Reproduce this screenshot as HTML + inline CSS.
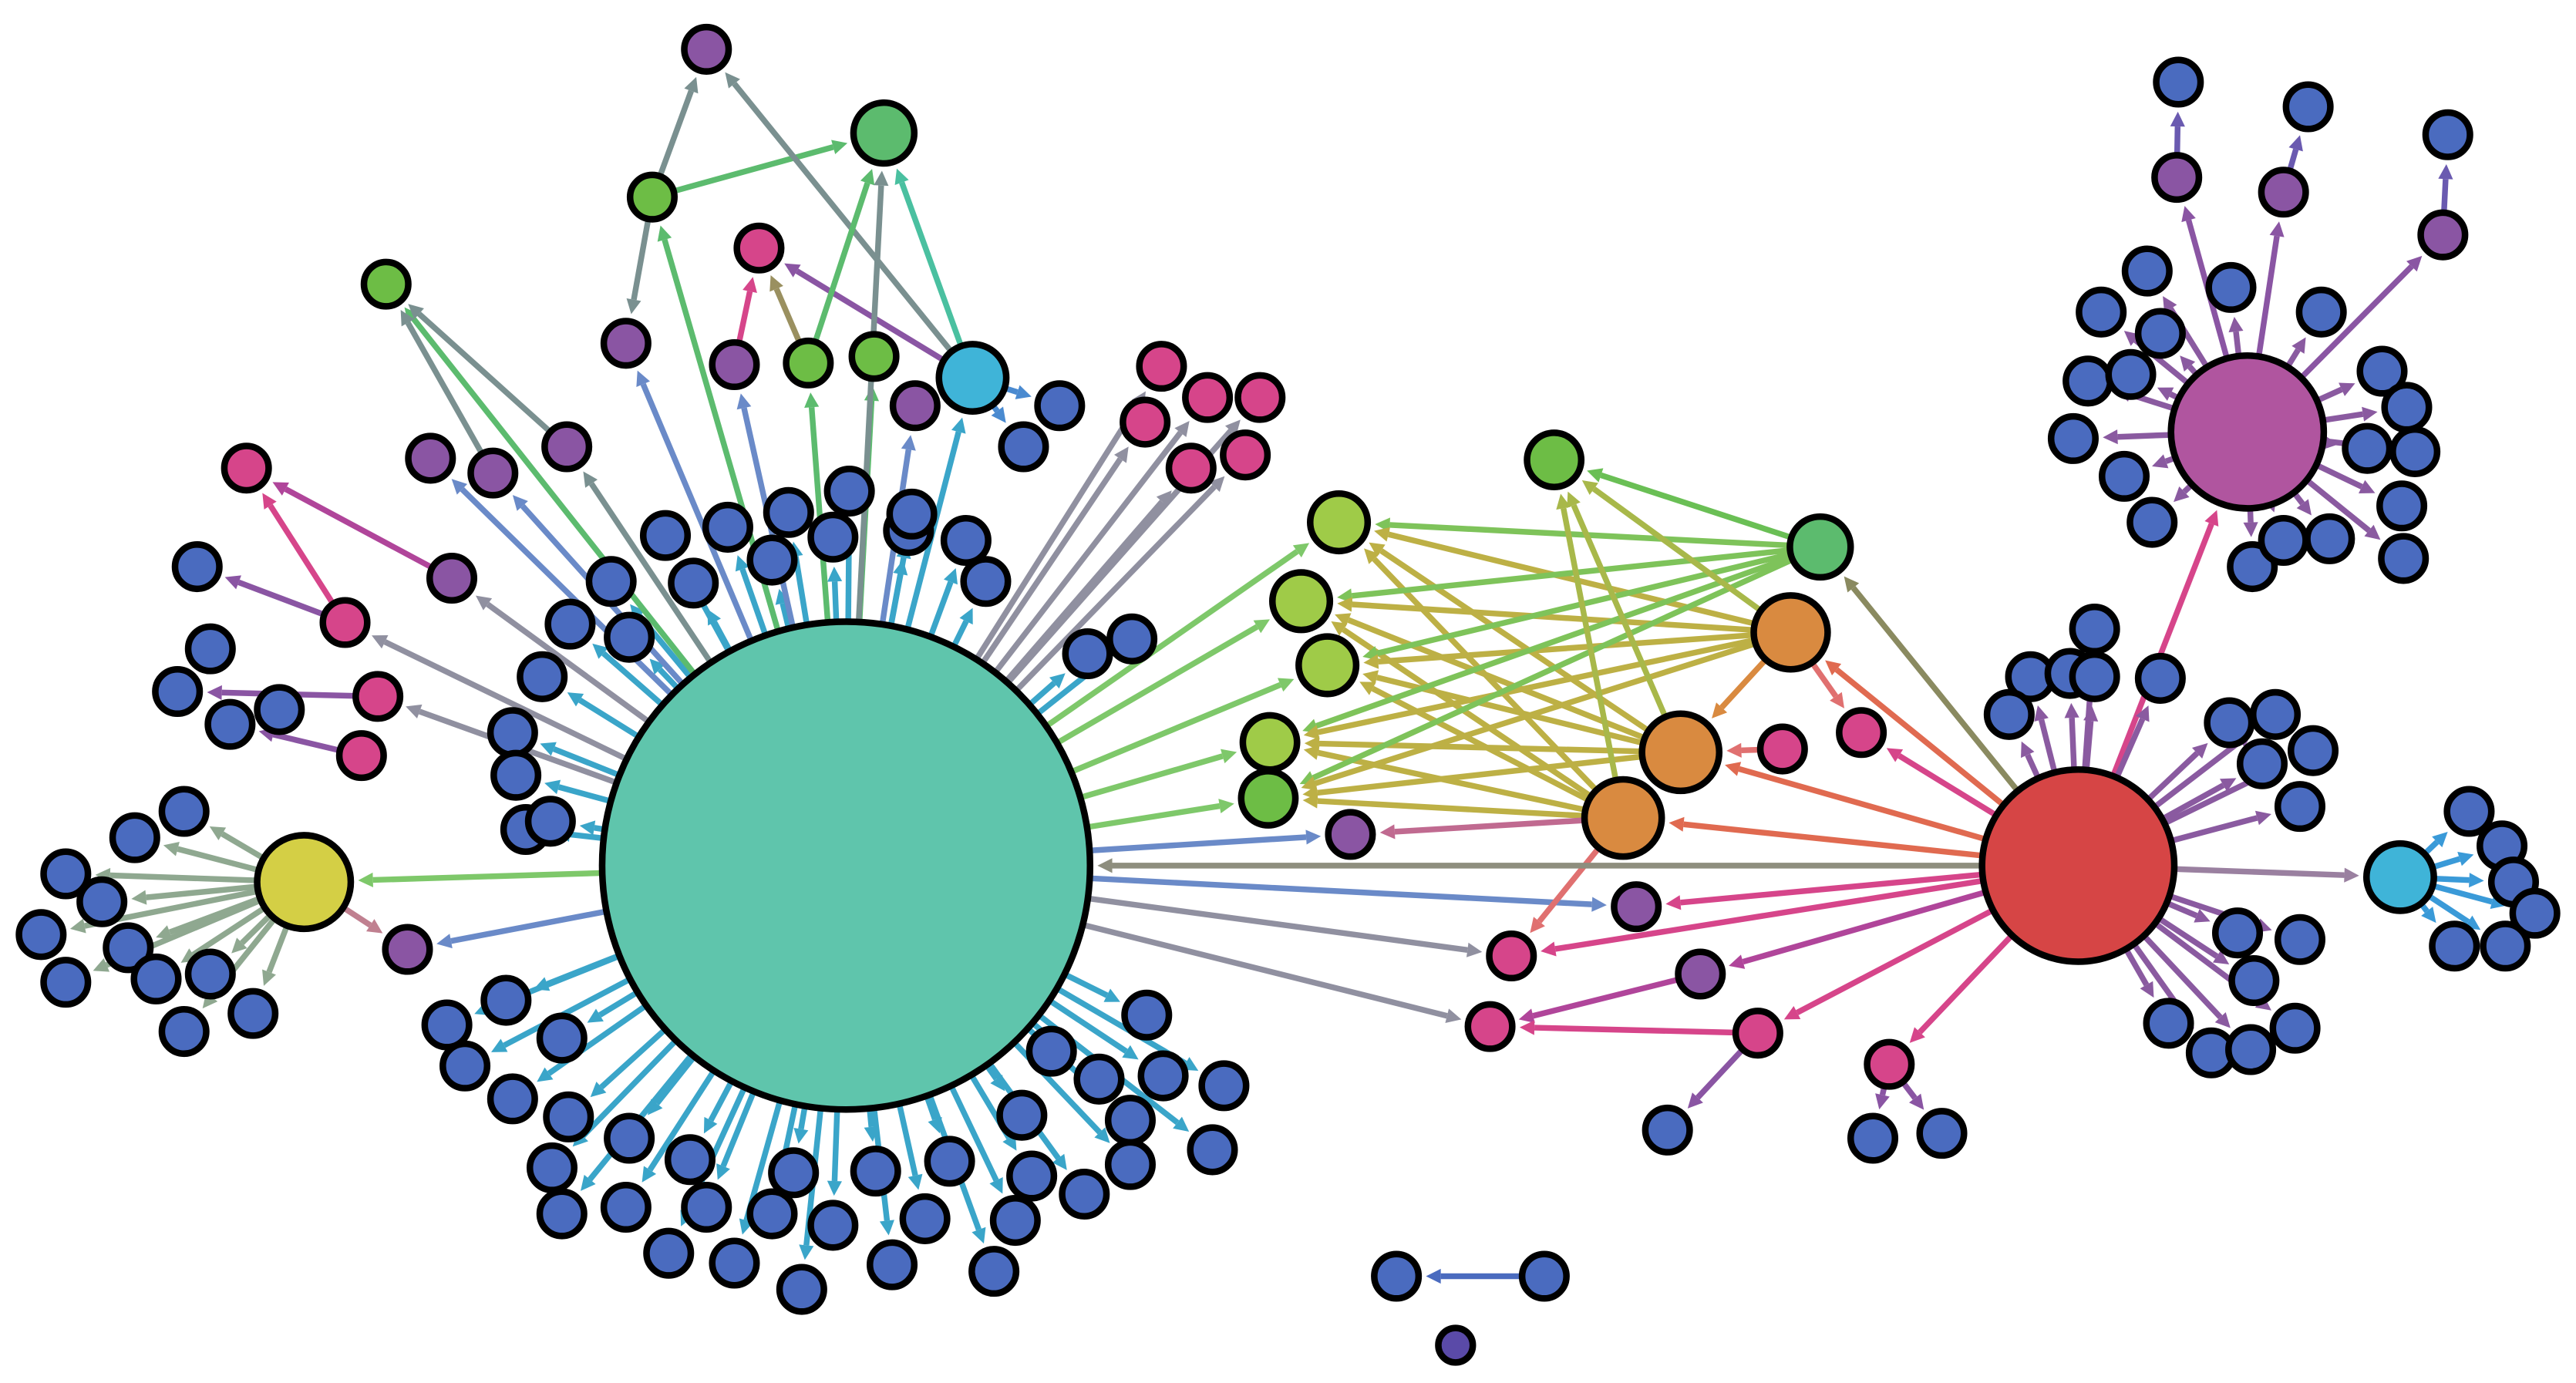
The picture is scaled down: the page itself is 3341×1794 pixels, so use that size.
<!DOCTYPE html>
<html><head><meta charset="utf-8"><style>html,body{margin:0;padding:0;background:#fff}svg{display:block}</style></head>
<body>
<svg id="s" width="3341" height="1794" viewBox="0 0 1568 842" xmlns="http://www.w3.org/2000/svg"><g id="e"></g><g id="n"></g></svg>
<script>
const B='#4a6bbf',PU='#8a55a3',PK='#d6458a',GR='#6dbd45',LG='#9fcb48',DG='#5cbb6e',OR='#d98a40',CY='#3fb4d8';
const N={};let k=0;
function nd(x,y,c,r){const id='n'+(k++);N[id]={x,y,c,r:r||15};return id;}
const E=[];
function ed(a,b,c){E.push([a,b,c]);}
const M=nd(515,527,'#5fc5ac',150), R=nd(1265,527,'#d64545',60), P=nd(1368,263,'#b0559f',48), Y=nd(185,537,'#d4cf45',30), C2=nd(1461,534,CY,22);
const MC='#3aa5c9';
[[405,326],[443,321],[480,312],[517,299],[507,327],[470,341],[422,355],[372,354],[383,388],[347,380],[330,412],[312,446],[314,472],[320,505],[335,500],[553,323],[588,329],[600,354],[555,313],[662,398],[689,389],
[272,624],[283,649],[308,609],[342,632],[312,669],[346,680],[383,693],[336,711],[342,739],[381,735],[407,763],[420,706],[430,735],[447,769],[470,739],[483,714],[488,785],[507,746],[533,713],[543,770],[563,742],[578,707],[618,743],[605,774],[622,679],[628,716],[660,727],[669,657],[688,682],[708,655],[745,661],[738,700],[688,709],[698,618],[640,640]].forEach(p=>{const a=nd(p[0],p[1],B);ed(M,a,MC);});
const b1=nd(645,247,B),b2=nd(623,272,B);
const pk1=nd(150,285,PK),bl1=nd(120,345,B),pk2=nd(210,379,PK),pk3=nd(230,424,PK),pk4=nd(220,460,PK);
const bl2=nd(128,395,B),bl3=nd(108,421,B),bl4=nd(140,441,B),bl5=nd(170,432,B);
const pu1=nd(275,352,PU),pu2=nd(262,279,PU),pu3=nd(300,288,PU),pu4=nd(345,272,PU),g1=nd(235,173,GR);
ed(pu1,pk1,'#b0459a');ed(pk2,pk1,PK);ed(pk2,bl1,PU);ed(pk3,bl3,PU);ed(pk4,bl4,PU);ed(M,pk2,'#9090a0');ed(M,pk3,'#9090a0');ed(M,pu1,'#9090a0');
ed(M,pu2,'#6a8ac8');ed(M,pu3,'#6a8ac8');ed(M,g1,DG);ed(pu3,g1,'#7a9090');ed(pu4,g1,'#7a9090');ed(M,pu4,'#7a9090');
[[112,494],[82,510],[40,532],[62,549],[25,569],[40,598],[78,577],[95,596],[128,593],[112,628],[154,617]].forEach(p=>{const a=nd(p[0],p[1],B);ed(Y,a,'#8fa890');});
const pu5=nd(248,578,PU);ed(Y,pu5,'#c08090');ed(M,Y,'#7ec86a');ed(M,pu5,'#6a8ac8');
const tp=nd(430,30,PU),tg=nd(397,120,GR),tpk=nd(462,151,PK),tpu=nd(381,209,PU),tpu2=nd(447,222,PU),tg2=nd(492,221,GR),tg3=nd(532,217,GR),tpu3=nd(557,247,PU),tc=nd(592,230,CY,22),big=nd(538,81,DG,20);
ed(tg,tp,'#7a9090');ed(tg,big,DG);ed(tg,tpu,'#7a9090');ed(tc,tp,'#7a9090');ed(tpu2,tpk,PK);ed(tg2,tpk,'#9a9060');ed(tc,tpk,PU);ed(tg2,big,DG);
ed(M,tg,DG);ed(M,tpu,'#6a8ac8');ed(M,tpu2,'#6a8ac8');ed(M,tg2,DG);ed(M,tg3,DG);ed(M,tpu3,'#6a8ac8');ed(M,tc,MC);ed(tc,big,'#4ac0a0');ed(M,big,'#7a9090');ed(tc,b1,'#4a8ad0');ed(tc,b2,'#4a8ad0');
[[707,223],[735,242],[767,242],[697,257],[725,285],[758,277]].forEach(p=>{const a=nd(p[0],p[1],PK);ed(M,a,'#9090a0');});
const lg1=nd(815,318,LG,19),lg2=nd(792,366,LG,19),lg3=nd(808,405,LG,19),lg4=nd(773,452,LG,18),g5=nd(772,486,GR,18),g6=nd(946,280,GR,18),g7=nd(1108,333,DG,20);
const o1=nd(1090,385,OR,24),o2=nd(1023,458,OR,25),o3=nd(988,498,OR,25);
const mp1=nd(1085,456,PK),mp2=nd(1133,446,PK),mp3=nd(920,582,PK),mp4=nd(907,625,PK),mp5=nd(1070,629,PK),mp6=nd(1150,648,PK);
const mu1=nd(822,508,PU),mu2=nd(996,552,PU),mu3=nd(1035,593,PU);
const mb1=nd(1015,688,B),mb2=nd(1140,693,B),mb3=nd(1182,690,B),mb4=nd(850,777,B),mb5=nd(940,777,B);nd(886,819,'#5a4aa8',12);
[lg1,lg2,lg3,lg4,g5].forEach(t=>{ed(M,t,'#7ec86a');ed(g7,t,'#7ec35a');[o1,o2,o3].forEach(o=>ed(o,t,'#bdb045'));});
ed(g7,g6,'#6abf55');[o1,o2,o3].forEach(o=>ed(o,g6,'#a8b84a'));
ed(M,mu1,'#6a8ac8');ed(o3,mu1,'#c06a90');ed(M,mu2,'#6a8ac8');ed(M,mp3,'#9090a0');ed(M,mp4,'#9090a0');ed(o3,mp3,'#e07070');
ed(o1,o2,OR);ed(o1,mp2,'#e07070');ed(R,o1,'#e06a50');ed(R,o2,'#e06a50');ed(R,o3,'#e06a50');ed(mp1,o2,'#e07070');ed(R,mp2,PK);ed(R,g7,'#8a8a60');ed(R,M,'#8e8e7e');
ed(R,mu2,PK);ed(R,mp3,PK);ed(R,mu3,'#b0459a');ed(mu3,mp4,'#b0459a');ed(mp5,mp4,PK);ed(R,mp5,PK);ed(R,mp6,PK);ed(mp5,mb1,PU);ed(mp6,mb2,PU);ed(mp6,mb3,PU);ed(mb5,mb4,'#4a6bbf');
ed(R,P,PK);ed(R,C2,'#9a80a0');
[[1275,383],[1236,412],[1260,410],[1275,412],[1223,435],[1315,413],[1357,440],[1385,435],[1377,465],[1408,457],[1400,491],[1362,568],[1400,572],[1372,597],[1320,623],[1346,641],[1370,639],[1397,626]].forEach(p=>{const a=nd(p[0],p[1],B);ed(R,a,'#8a5aa0');});
[[1503,494],[1523,515],[1530,537],[1543,556],[1525,576],[1494,576]].forEach(p=>{const a=nd(p[0],p[1],B);ed(C2,a,'#3a9ad8');});
const pp1=nd(1325,108,PU),pp2=nd(1390,117,PU),pp3=nd(1487,143,PU);
ed(P,pp1,PU);ed(P,pp2,PU);ed(P,pp3,PU);ed(pp1,nd(1326,50,B),'#6a5ab0');ed(pp2,nd(1405,65,B),'#6a5ab0');ed(pp3,nd(1490,82,B),'#6a5ab0');
[[1307,165],[1358,175],[1413,190],[1279,190],[1315,203],[1271,232],[1297,228],[1262,267],[1293,290],[1310,318],[1450,226],[1465,248],[1441,273],[1470,275],[1462,308],[1463,340],[1371,345],[1390,329],[1418,328]].forEach(p=>{const a=nd(p[0],p[1],B);ed(P,a,'#8a5aa0');});
const ns='http://www.w3.org/2000/svg';const eg=document.getElementById('e'),ng=document.getElementById('n');
E.forEach(([a,b,c])=>{a=N[a];b=N[b];const dx=b.x-a.x,dy=b.y-a.y,L=Math.hypot(dx,dy),ux=dx/L,uy=dy/L;
const sx=a.x+ux*a.r,sy=a.y+uy*a.r,tx=b.x-ux*(b.r+3),ty=b.y-uy*(b.r+3),hx=tx-ux*9,hy=ty-uy*9;
const l=document.createElementNS(ns,'line');l.setAttribute('x1',sx);l.setAttribute('y1',sy);l.setAttribute('x2',hx);l.setAttribute('y2',hy);l.setAttribute('stroke',c);l.setAttribute('stroke-width',3.5);eg.appendChild(l);
const p=document.createElementNS(ns,'polygon');p.setAttribute('points',`${tx},${ty} ${hx-uy*4.5},${hy+ux*4.5} ${hx+uy*4.5},${hy-ux*4.5}`);p.setAttribute('fill',c);eg.appendChild(p);});
Object.values(N).forEach(o=>{const c=document.createElementNS(ns,'circle');c.setAttribute('cx',o.x);c.setAttribute('cy',o.y);c.setAttribute('r',o.r-1.5);c.setAttribute('fill',o.c);c.setAttribute('stroke','#000');c.setAttribute('stroke-width',4);ng.appendChild(c);});
</script>
</body></html>
